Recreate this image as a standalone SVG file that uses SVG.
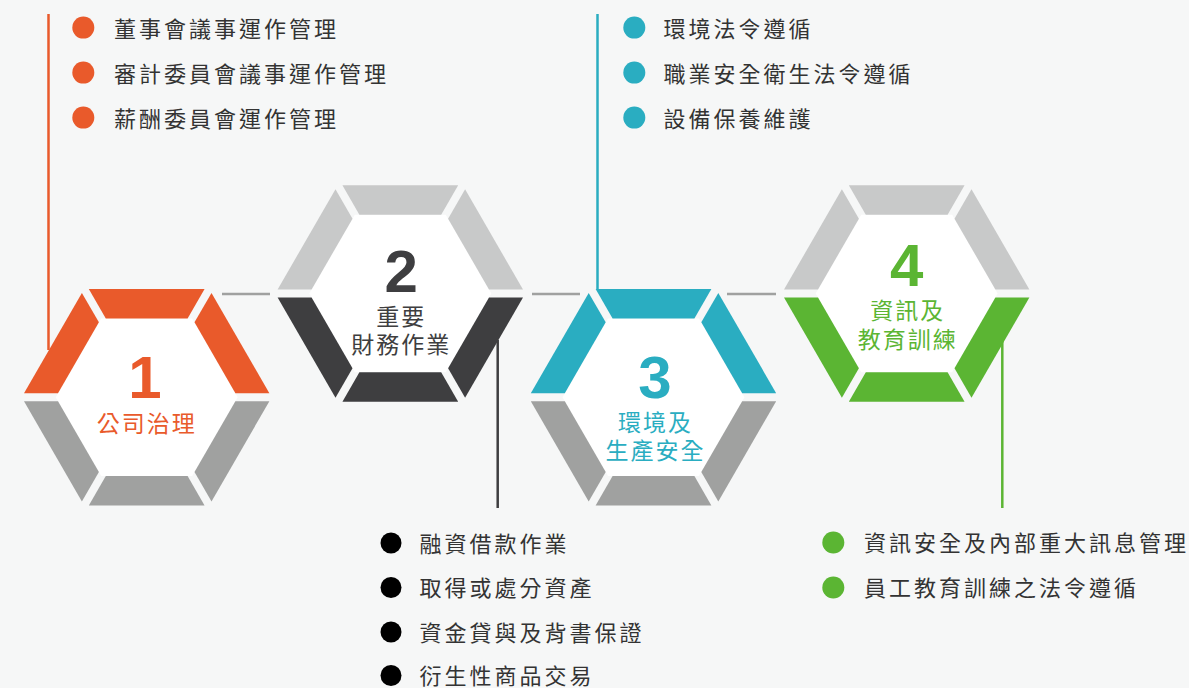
<svg xmlns="http://www.w3.org/2000/svg" xmlns:xlink="http://www.w3.org/1999/xlink" width="1189" height="688" viewBox="0 0 1189 688">
<style>
  .txt{font-family:"Noto Sans CJK TC","Noto Sans CJK SC",sans-serif;font-size:22px;letter-spacing:3px;fill:#333333}
  .lbl{font-family:"Noto Sans CJK TC","Noto Sans CJK SC",sans-serif;font-size:23px;letter-spacing:2px;text-anchor:middle}
  .num{font-family:"Liberation Sans",Arial,sans-serif;font-weight:bold;font-size:60px;text-anchor:middle}
  .conn{fill:none;stroke-width:2.5}
</style>
<defs>
  <polygon id="seg" points="-57.88,-108.25 57.88,-108.25 40.9,-78.81 -40.9,-78.81"/>
  <polygon id="inner" points="91,0 45.5,78.81 -45.5,78.81 -91,0 -45.5,-78.81 45.5,-78.81" fill="#ffffff"/>
  <g id="topHalf">
    <use xlink:href="#seg"/>
    <use xlink:href="#seg" transform="rotate(60)"/>
    <use xlink:href="#seg" transform="rotate(300)"/>
  </g>
  <g id="botHalf">
    <use xlink:href="#seg" transform="rotate(120)"/>
    <use xlink:href="#seg" transform="rotate(180)"/>
    <use xlink:href="#seg" transform="rotate(240)"/>
  </g>
</defs>
<rect x="0" y="0" width="1189" height="688" fill="#f6f7f7"/>

<g id="connectors">
  <line class="conn" x1="48.5" y1="14" x2="48.5" y2="350" stroke="#e95a2b"/>
  <line class="conn" x1="597.5" y1="14" x2="597.5" y2="289" stroke="#2aadc1"/>
  <line class="conn" x1="497.7" y1="340" x2="497.7" y2="508" stroke="#3e3e40"/>
  <line class="conn" x1="1002.3" y1="340" x2="1002.3" y2="508" stroke="#5bb533"/>
  <line class="conn" x1="222" y1="294" x2="270" y2="294" stroke="#a0a1a0"/>
  <line class="conn" x1="532" y1="294" x2="580" y2="294" stroke="#a0a1a0"/>
  <line class="conn" x1="727" y1="294" x2="776" y2="294" stroke="#a0a1a0"/>
</g>

<g id="node1" transform="translate(146.7,397.2)">
  <use xlink:href="#inner"/>
  <use xlink:href="#topHalf" fill="#e95a2b"/>
  <use xlink:href="#botHalf" fill="#a0a1a0"/>
  <text class="num" x="-1.7" y="0.8" fill="#e95a2b">1</text>
  <text class="lbl" x="0" y="35.3" fill="#e95a2b">公司治理</text>
</g>

<g id="node2" transform="translate(400.3,293.5)">
  <use xlink:href="#inner"/>
  <use xlink:href="#topHalf" fill="#c8c9c9"/>
  <use xlink:href="#botHalf" fill="#3e3e40"/>
  <text class="num" x="1" y="-1.8" fill="#3e3e40">2</text>
  <text class="lbl" x="1" y="31.5" fill="#3e3e40">重要</text>
  <text class="lbl" x="1" y="59.8" fill="#3e3e40">財務作業</text>
</g>

<g id="node3" transform="translate(653.5,397.2)">
  <use xlink:href="#inner"/>
  <use xlink:href="#topHalf" fill="#2aadc1"/>
  <use xlink:href="#botHalf" fill="#a0a1a0"/>
  <text class="num" x="1.5" y="1.1" fill="#2aadc1">3</text>
  <text class="lbl" x="2" y="33.4" fill="#2aadc1">環境及</text>
  <text class="lbl" x="2" y="61.8" fill="#2aadc1">生產安全</text>
</g>

<g id="node4" transform="translate(906.7,293.5)">
  <use xlink:href="#inner"/>
  <use xlink:href="#topHalf" fill="#c8c9c9"/>
  <use xlink:href="#botHalf" fill="#5bb533"/>
  <text class="num" x="0" y="-7.5" fill="#5bb533">4</text>
  <text class="lbl" x="1" y="25.5" fill="#5bb533">資訊及</text>
  <text class="lbl" x="1" y="54.8" fill="#5bb533">教育訓練</text>
</g>

<g id="list1">
  <circle cx="83.3" cy="27.6" r="11" fill="#e95a2b"/>
  <circle cx="83.3" cy="72.6" r="11" fill="#e95a2b"/>
  <circle cx="83.3" cy="117.6" r="11" fill="#e95a2b"/>
  <text class="txt" x="114" y="36.5">董事會議事運作管理</text>
  <text class="txt" x="114" y="81.5">審計委員會議事運作管理</text>
  <text class="txt" x="114" y="126.5">薪酬委員會運作管理</text>
</g>

<g id="list3">
  <circle cx="634.3" cy="27.6" r="11" fill="#2aadc1"/>
  <circle cx="634.3" cy="72.6" r="11" fill="#2aadc1"/>
  <circle cx="634.3" cy="117.6" r="11" fill="#2aadc1"/>
  <text class="txt" x="663.5" y="36.5">環境法令遵循</text>
  <text class="txt" x="663.5" y="81.5">職業安全衛生法令遵循</text>
  <text class="txt" x="663.5" y="126.5">設備保養維護</text>
</g>

<g id="list2">
  <circle cx="391" cy="543" r="10.5" fill="#000000"/>
  <circle cx="391" cy="587.5" r="10.5" fill="#000000"/>
  <circle cx="391" cy="632" r="10.5" fill="#000000"/>
  <circle cx="391" cy="675.5" r="10.5" fill="#000000"/>
  <text class="txt" x="419.5" y="551.5">融資借款作業</text>
  <text class="txt" x="419.5" y="596">取得或處分資產</text>
  <text class="txt" x="419.5" y="640.5">資金貸與及背書保證</text>
  <text class="txt" x="419.5" y="683.5">衍生性商品交易</text>
</g>

<g id="list4">
  <circle cx="833.3" cy="542.5" r="11" fill="#5bb533"/>
  <circle cx="833.3" cy="587.5" r="11" fill="#5bb533"/>
  <text class="txt" x="864" y="551">資訊安全及內部重大訊息管理</text>
  <text class="txt" x="864" y="596">員工教育訓練之法令遵循</text>
</g>
</svg>
